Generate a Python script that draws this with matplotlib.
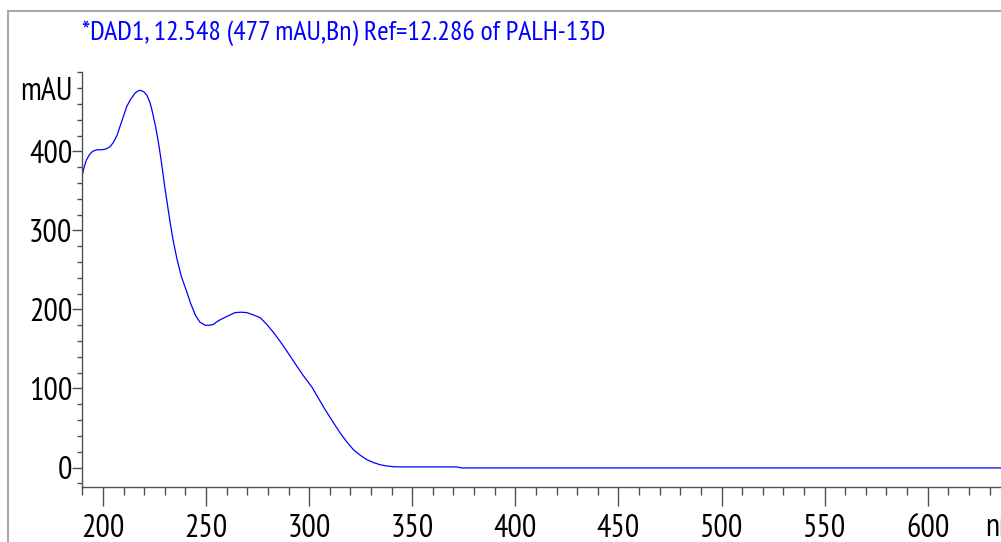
import matplotlib
matplotlib.use("Agg")
import matplotlib.pyplot as plt
from matplotlib.lines import Line2D
from matplotlib.ticker import MultipleLocator
from matplotlib import font_manager as fm

# ---- data ----
wavelength_nm = [190, 191, 192, 193.5, 195, 197, 199.5, 201.5, 203.5, 205, 206.8, 209, 211.6,
                 213.5, 215.7, 217.5, 218.5, 220, 221.3, 222.8, 223.8, 225.5, 227, 228.5,
                 230.2, 231.5, 232.6, 234, 235.9, 238, 240.7, 242.5, 244.8, 247, 249.6,
                 251.5, 253.6, 255, 256.9, 260, 264.1, 267, 269.8, 273, 276.3, 279.5, 282.7,
                 286.1, 289, 291.6, 293.2, 297, 301.3, 304, 307, 310, 312.6, 315.5, 318.3,
                 321.5, 324.8, 328, 331.2, 334.5, 337.7, 341, 344.1, 360, 371.6, 374, 640]
absorbance_mau = [370, 381, 389, 396, 400, 402, 402, 403, 406, 411, 420, 437, 457,
                  466, 474, 477, 477, 475, 471, 462, 452, 432, 410, 384,
                  351, 329, 310, 288, 264, 242, 222, 208, 193, 184, 180,
                  180, 181, 184, 187, 191, 196, 196.5, 196, 193, 189.6, 181, 171,
                  159, 148, 138, 131.5, 117, 102, 90, 76.6, 64, 53.5, 42, 32.4,
                  22.5, 15.5, 10, 6.3, 3.5, 2, 1, 0.8, 0.8, 0.8, -0.5, -0.5]
x_major_ticks = [200, 250, 300, 350, 400, 450, 500, 550, 600]
y_major_ticks = [0, 100, 200, 300, 400]
title_text = "*DAD1, 12.548 (477 mAU,Bn) Ref=12.286 of PALH-13D"
y_unit = "mAU"
x_unit = "nm"

# ---- pick a narrow / condensed sans face if one is installed ----
def pick_condensed():
    best = None
    for f in fm.fontManager.ttflist:
        n = f.name.lower()
        st = str(f.stretch).lower()
        if f.style != 'normal':
            continue
        w = f.weight
        try:
            w = int(w)
        except Exception:
            w = 400 if str(w) in ('normal', 'regular', 'book') else 700
        if w not in (400,):
            continue
        score = None
        if 'narrow' in n and 'sans' in n:
            score = 0
        elif 'condensed' in n and 'sans' in n:
            score = 1
        elif 'condensed' in n:
            score = 2
        elif st in ('condensed', 'semi-condensed', 'extra-condensed', 'ultra-condensed') \
                or (st.isdigit() and int(st) < 100):
            score = 3
        if score is not None and (best is None or score < best[0]):
            best = (score, f.fname)
    if best is None:
        return fm.FontProperties(family=['Liberation Sans', 'DejaVu Sans'])
    return fm.FontProperties(fname=best[1])

FP = pick_condensed()

def fp(size):
    p = FP.copy()
    p.set_size(size)
    return p

W, H = 1001, 542
fig = plt.figure(figsize=(W / 100, H / 100), dpi=100)

# outer grey frame (left and top edges visible)
fig.add_artist(Line2D([8 / W, 8 / W], [0, 1 - 11 / H], color='#a8a8a8', lw=1.5,
                      transform=fig.transFigure))
fig.add_artist(Line2D([8 / W, 1], [1 - 11 / H, 1 - 11 / H], color='#a8a8a8', lw=1.5,
                      transform=fig.transFigure))

left_px, right_px = 82.3, 1010.2
bottom_px, top_px = 487.3, 72.3
ax = fig.add_axes([left_px / W, 1 - bottom_px / H,
                   (right_px - left_px) / W, (bottom_px - top_px) / H])

ax.plot(wavelength_nm, absorbance_mau, color='#0000ff', lw=0.9)

ax.set_xlim(190, 640)
ax.set_ylim(-25, 500)

for s in ['top', 'right']:
    ax.spines[s].set_visible(False)
for s in ['left', 'bottom']:
    ax.spines[s].set_color('#505050')
    ax.spines[s].set_linewidth(1.0)

ax.set_xticks(x_major_ticks)
ax.xaxis.set_minor_locator(MultipleLocator(10))
ax.set_yticks(y_major_ticks)
ax.yaxis.set_minor_locator(MultipleLocator(20))

ax.tick_params(axis='x', which='major', length=14, width=1, color='#505050', pad=5)
ax.tick_params(axis='x', which='minor', length=5.8, width=1, color='#505050')
ax.tick_params(axis='y', which='major', length=7.2, width=1, color='#505050', pad=0)
ax.tick_params(axis='y', which='minor', length=3.8, width=1, color='#505050')
for lab in ax.get_xticklabels() + ax.get_yticklabels():
    lab.set_fontproperties(fp(23))
    lab.set_color('black')

# unit labels
fig.text(72.7 / W, 1 - 92 / H, y_unit, ha='right', va='center',
         fontproperties=fp(23), color='black')
fig.text(985 / W, 1 - 528 / H, x_unit, ha='left', va='center',
         fontproperties=fp(23), color='black')

# title
fig.text(82 / W, 1 - 33 / H, title_text, ha='left', va='center',
         fontproperties=fp(20), color='#0000ff')

fig.savefig('out.png', dpi=100)
